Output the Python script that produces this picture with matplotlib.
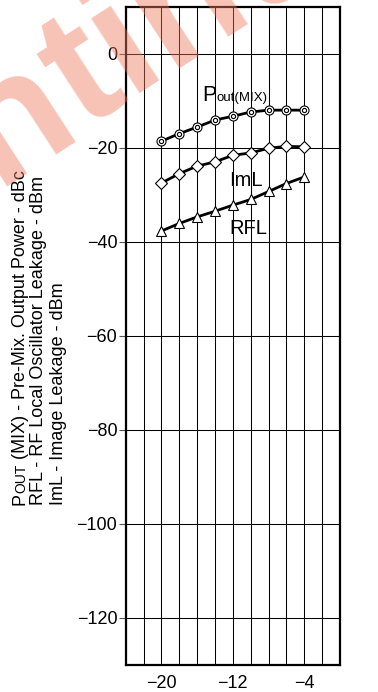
import matplotlib
matplotlib.use("Agg")
import matplotlib.pyplot as plt

plt.rcParams['font.family'] = ['Liberation Sans', 'DejaVu Sans']

# ---- data ----
x_vals = [-20, -18, -16, -14, -12, -10, -8, -6, -4]
pout_mix = [-18.6, -17.0, -15.6, -14.1, -13.3, -12.4, -12.0, -12.0, -12.0]
iml = [-27.5, -25.5, -23.9, -23.0, -21.6, -21.1, -20.1, -19.7, -19.8]
rfl = [-37.7, -36.1, -34.7, -33.5, -32.2, -31.0, -29.3, -27.6, -26.2]
x_ticks = [-20, -12, -4]
x_grid = [-24, -22, -20, -18, -16, -14, -12, -10, -8, -6, -4, -2, 0]
y_ticks = [0, -20, -40, -60, -80, -100, -120]

W, H = 378, 692
fig = plt.figure(figsize=(W / 100, H / 100), dpi=100)
ax = fig.add_axes([125.7 / W, 27 / H, (340 - 125.7) / W, (665 - 6.7) / H])

ax.set_xlim(-24, 0)
ax.set_ylim(-130, 10)

ax.set_xticks(x_ticks)
ax.set_xticklabels([f"\u2212{abs(v)}" for v in x_ticks])
ax.set_xticks(x_grid, minor=True)
ax.set_yticks(y_ticks)
ax.set_yticklabels(["0" if v == 0 else f"\u2212{abs(v)}" for v in y_ticks])

ax.grid(True, which='both', axis='x', color='black', lw=0.75)
ax.grid(True, which='major', axis='y', color='black', lw=0.75)
ax.set_axisbelow(True)
ax.tick_params(axis='x', which='both', length=0, pad=7, labelsize=13)
ax.tick_params(axis='y', which='major', length=5, width=0.8, direction='out',
               pad=1, labelsize=13, color='#555555')
for s in ax.spines.values():
    s.set_linewidth(1.6)

# series
ax.plot(x_vals, pout_mix, color='black', lw=2.0, marker='o', ms=6.5,
        mfc='white', mec='black', mew=0.8, zorder=3)
ax.plot(x_vals, pout_mix, ls='none', marker='o', ms=3.0,
        mfc='white', mec='black', mew=0.8, zorder=4)
ax.plot(x_vals, iml, color='black', lw=2.0, marker='D', ms=6.0,
        mfc='white', mec='black', mew=0.8, zorder=3)
ax.plot(x_vals, rfl, color='black', lw=2.0, marker='^', ms=7.5,
        mfc='white', mec='black', mew=0.8, zorder=3)

# curve labels
ax.text(-13.78, -10.1, "P", fontsize=15.5, ha='right', va='baseline', zorder=5)
ax.text(-13.78, -10.1, "out(MIX)", fontsize=9.5, ha='left', va='baseline', zorder=5)
ax.text(-12.4, -28.1, "ImL", fontsize=14.5, ha='left', va='baseline', zorder=5)
ax.text(-12.4, -38.4, "RFL", fontsize=14.5, ha='left', va='baseline', zorder=5)

# y axis label (three lines, rotated)
y0 = 1 - 505 / H
kw = dict(rotation=90, rotation_mode='anchor', ha='left', va='baseline')
tP = fig.text(25 / W, y0, "P", fontsize=13, **kw)
fig.canvas.draw()
r = fig.canvas.get_renderer()
bb = tP.get_window_extent(r)
tO = fig.text(25 / W, bb.y1 / H, "OUT", fontsize=10, **kw)
bb2 = tO.get_window_extent(r)
fig.text(25 / W, bb2.y1 / H, " (MIX) - Pre-Mix. Output Power - dBc", fontsize=13, **kw)
fig.text(43.3 / W, y0, "RFL - RF Local Oscillator Leakage - dBm", fontsize=13, **kw)
fig.text(63 / W, y0, "ImL - Image Leakage - dBm", fontsize=13, **kw)

# watermark
wkw = dict(rotation=33, rotation_mode='anchor', va='baseline', fontsize=122,
           fontweight='bold', color='#ef7a5c', alpha=0.45)
fig.text(84 / W, 1 - 129 / H, "tinued", ha='left', **wkw)
fig.text(84 / W, 1 - 129 / H, "Discon", ha='right', **wkw)

fig.savefig("out.png", dpi=100)
